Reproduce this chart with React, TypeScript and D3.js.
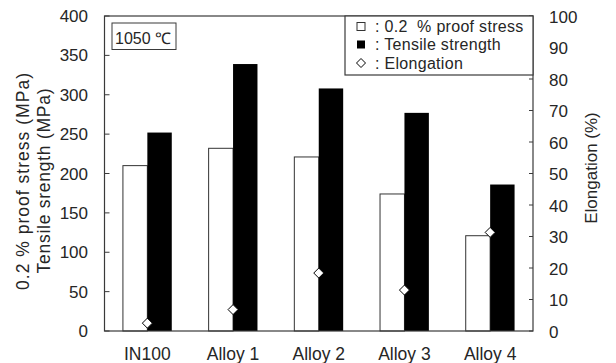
import React from "react";
import * as d3 from "d3";

const categories = ["IN100", "Alloy 1", "Alloy 2", "Alloy 3", "Alloy 4"];
const proofStress = [210, 232, 221, 174, 121];
const tensileStrength = [252, 339, 308, 277, 186];
const elongation = [2.5, 6.8, 18.4, 13.0, 31.3];
const leftTicks = [0, 50, 100, 150, 200, 250, 300, 350, 400];
const rightTicks = [0, 10, 20, 30, 40, 50, 60, 70, 80, 90, 100];
const legendLabels = [": 0.2  % proof stress", ": Tensile strength", ": Elongation"];

const W = 616;
const H = 363;
const left = 104.5;
const right = 533;
const top = 16;
const bottom = 331;
const font = "Arial, 'Liberation Sans', sans-serif";
const textColor = "#262626";

export default function App() {
  const x = d3.scaleBand<string>().domain(categories).range([left, right]).padding(0);
  const yL = d3.scaleLinear().domain([0, 400]).range([bottom, top]);
  const yR = d3.scaleLinear().domain([0, 100]).range([bottom, top]);
  const bw = x.bandwidth() * 0.285;
  const diamond = (cx: number, cy: number, r: number) =>
    `M${cx},${cy - r}L${cx + r},${cy}L${cx},${cy + r}L${cx - r},${cy}Z`;

  const legRows = [26.5, 44.5, 63];

  return (
    <svg
      width={W}
      height={H}
      style={{ position: "absolute", left: 0, top: 0, background: "#fff" }}
      fontFamily={font}
    >
      <rect x={0} y={0} width={W} height={H} fill="#fff" />
      {categories.map((c, i) => {
        const cx = (x(c) as number) + x.bandwidth() / 2;
        return (
          <g key={c}>
            <rect
              x={cx - bw}
              y={yL(proofStress[i])}
              width={bw}
              height={yL(0) - yL(proofStress[i])}
              fill="#fff"
              stroke="#333"
              strokeWidth={1}
            />
            <rect
              x={cx}
              y={yL(tensileStrength[i])}
              width={bw}
              height={yL(0) - yL(tensileStrength[i])}
              fill="#000"
            />
          </g>
        );
      })}
      {categories.map((c, i) => {
        const cx = (x(c) as number) + x.bandwidth() / 2;
        return (
          <path
            key={"d" + c}
            d={diamond(cx, yR(elongation[i]), 5)}
            fill="#fff"
            stroke="#000"
            strokeWidth={1}
          />
        );
      })}
      <rect x={left} y={top} width={right - left} height={bottom - top} fill="none" stroke="#3a3a3a" strokeWidth={1.2} />
      {leftTicks.map((t) => (
        <g key={"l" + t}>
          <line x1={left} x2={left + 5} y1={yL(t)} y2={yL(t)} stroke="#3a3a3a" />
          <text x={88} y={yL(t) + 6} textAnchor="end" fontSize={17} fill={textColor}>
            {t}
          </text>
        </g>
      ))}
      {rightTicks.map((t) => (
        <g key={"r" + t}>
          <line x1={right - 4} x2={right} y1={yR(t)} y2={yR(t)} stroke="#3a3a3a" />
          <text x={549} y={yR(t) + 6.5} textAnchor="start" fontSize={17} fill={textColor}>
            {t}
          </text>
        </g>
      ))}
      {categories.map((c) => (
        <text
          key={"x" + c}
          x={(x(c) as number) + x.bandwidth() / 2}
          y={360}
          textAnchor="middle"
          fontSize={17.5}
          fill={textColor}
        >
          {c}
        </text>
      ))}
      <text
        transform="translate(28.5,181.5) rotate(-90)"
        textAnchor="middle"
        fontSize={17.5}
        fill={textColor}
        textLength={217}
        lengthAdjust="spacing"
      >
        0.2 % proof stress (MPa)
      </text>
      <text
        transform="translate(49.5,181) rotate(-90)"
        textAnchor="middle"
        fontSize={17.5}
        fill={textColor}
        textLength={185}
        lengthAdjust="spacing"
      >
        Tensile srength (MPa)
      </text>
      <text
        transform="translate(597,168) rotate(-90)"
        textAnchor="middle"
        fontSize={17}
        fill={textColor}
      >
        Elongation (%)
      </text>
      <rect x={112} y={23} width={64} height={26.5} fill="#fff" stroke="#3a3a3a" strokeWidth={1} />
      <text x={115} y={44} fontSize={16} fill={textColor}>
        1050 ℃
      </text>
      <rect x={345} y={top} width={right - 345} height={59} fill="#fff" stroke="#3a3a3a" strokeWidth={1.2} />
      <rect x={357} y={legRows[0] - 4} width={8} height={8} fill="#fff" stroke="#333" />
      <rect x={357} y={legRows[1] - 4} width={8} height={8} fill="#000" />
      <path d={diamond(361, legRows[2], 4.5)} fill="#fff" stroke="#000" />
      {legendLabels.map((l, i) => (
        <text
          key={l}
          x={375}
          y={legRows[i] + 5.5}
          fontSize={16}
          fill={textColor}
          style={{ whiteSpace: "pre" }}
          letterSpacing={0.3}
        >
          {l}
        </text>
      ))}
    </svg>
  );
}
